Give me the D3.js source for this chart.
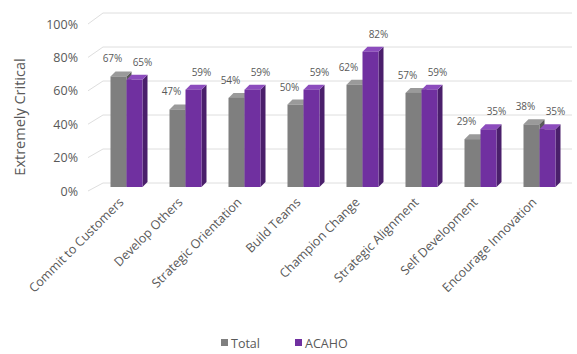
<!DOCTYPE html>
<html>
<head>
<meta charset="utf-8">
<script src="https://cdn.jsdelivr.net/npm/d3@7"></script>
<style>
  body { margin: 0; background: #fff; }
  text { font-family: "Open Sans", "Liberation Sans", sans-serif; fill: #595959; }
</style>
</head>
<body>
<svg id="chart" width="577" height="354"></svg>
<script>
const categories = ["Commit to Customers", "Develop Others", "Strategic Orientation", "Build Teams",
  "Champion Change", "Strategic Alignment", "Self Development", "Encourage Innovation"];
const seriesNames = ["Total", "ACAHO"];
const totalValues = [67, 47, 54, 50, 62, 57, 29, 38];
const acahoValues = [65, 59, 59, 59, 82, 59, 35, 35];
const yTicks = [0, 20, 40, 60, 80, 100];

const colors = { Total: "#7f7f7f", ACAHO: "#7030a0" };
const sideColors = { Total: "#595959", ACAHO: "#4a1f6b" };
const topColors = { Total: "#9a9a9a", ACAHO: "#8c4cbd" };

const svg = d3.select("#chart");
const depth = 5;

// front scale for bars, wall scale for the grid
const yBar = d3.scaleLinear().domain([0, 100]).range([187, 22]);
const yWall = d3.scaleLinear().domain([0, 100]).range([183, 13]);
const yLabel = d3.scaleLinear().domain([0, 100]).range([191, 24]);

const xScale = d3.scaleBand().domain(categories).range([98, 570]);
const xSeries = d3.scaleBand().domain(seriesNames).range([0, 32]);

const data = categories.map((c, i) => ({ cat: c, Total: totalValues[i], ACAHO: acahoValues[i] }));

// gridlines (back wall + slanted side)
const grid = svg.append("g");
yTicks.forEach(t => {
  grid.append("line")
    .attr("x1", 103).attr("x2", 572)
    .attr("y1", yWall(t)).attr("y2", yWall(t))
    .attr("stroke", "#dedede").attr("stroke-width", 1);
  grid.append("line")
    .attr("x1", 88).attr("x2", 103)
    .attr("y1", yLabel(t)).attr("y2", yWall(t))
    .attr("stroke", "#dedede").attr("stroke-width", 1);
});

// y tick labels
svg.append("g").selectAll("text")
  .data(yTicks).enter().append("text")
  .attr("x", 78).attr("y", d => yLabel(d) + 4.5)
  .attr("text-anchor", "end")
  .style("font-size", "12.5px")
  .text(d => d + "%");

// y title
svg.append("text")
  .attr("transform", "translate(25,117) rotate(-90)")
  .attr("text-anchor", "middle")
  .style("font-size", "14.5px")
  .text("Extremely Critical");

// bars
const bars = svg.append("g");
data.forEach(d => {
  const cx = xScale(d.cat) + xScale.bandwidth() / 2 - 17;
  seriesNames.forEach(s => {
    const x = cx + xSeries(s);
    const w = xSeries.bandwidth();
    const yTop = yBar(d[s]);
    const yBot = yBar(0);
    // side face
    bars.append("polygon")
      .attr("points", [[x + w, yTop], [x + w + depth, yTop - depth], [x + w + depth, yBot - depth], [x + w, yBot]].join(" "))
      .attr("fill", sideColors[s]);
    // top face
    bars.append("polygon")
      .attr("points", [[x, yTop], [x + depth, yTop - depth], [x + w + depth, yTop - depth], [x + w, yTop]].join(" "))
      .attr("fill", topColors[s]);
    // front face
    bars.append("rect")
      .attr("x", x).attr("y", yTop)
      .attr("width", w).attr("height", yBot - yTop)
      .attr("fill", colors[s]);
  });
});

// data labels
const labels = svg.append("g");
data.forEach(d => {
  const cx = xScale(d.cat) + xScale.bandwidth() / 2 - 17;
  seriesNames.forEach((s, j) => {
    const x = cx + xSeries(s) + xSeries.bandwidth() / 2 + (j === 0 ? -6 : 8);
    labels.append("text")
      .attr("x", x).attr("y", yBar(d[s]) - 14)
      .attr("text-anchor", "middle")
      .style("font-size", "10px")
      .text(d[s] + "%");
  });
});

// x labels
svg.append("g").selectAll("text")
  .data(categories).enter().append("text")
  .attr("transform", c => `translate(${xScale(c) + xScale.bandwidth() / 2 - 3},203) rotate(-45)`)
  .attr("text-anchor", "end")
  .style("font-size", "12.5px")
  .text(c => c);

// legend
const legend = svg.append("g");
const legendX = [221, 295];
seriesNames.forEach((s, i) => {
  legend.append("rect")
    .attr("x", legendX[i]).attr("y", 339)
    .attr("width", 7).attr("height", 7)
    .attr("fill", colors[s]);
  legend.append("text")
    .attr("x", legendX[i] + 10).attr("y", 347.5)
    .style("font-size", "12.5px")
    .text(s);
});
</script>
</body>
</html>
